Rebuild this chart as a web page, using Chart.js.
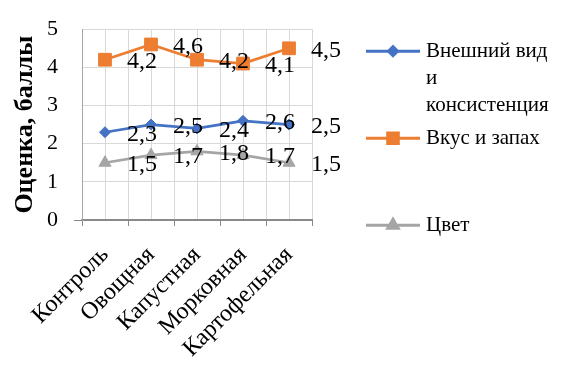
<!DOCTYPE html>
<html>
<head>
<meta charset="utf-8">
<script src="https://cdn.jsdelivr.net/npm/chart.js@4"></script>
<style>
  html, body { margin: 0; padding: 0; background: #fff; }
  #wrap { width: 568px; height: 367px; position: relative; }
</style>
</head>
<body>
<div id="wrap"><canvas id="chart"></canvas></div>
<script>
// Sensory evaluation scores per sample
const categories = ['Контроль', 'Овощная', 'Капустная', 'Морковная', 'Картофельная'];
const appearanceScores = [2.3, 2.5, 2.4, 2.6, 2.5];
const tasteScores = [4.2, 4.6, 4.2, 4.1, 4.5];
const colourScores = [1.5, 1.7, 1.8, 1.7, 1.5];
const seriesNames = ['Внешний вид и консистенция', 'Вкус и запах', 'Цвет'];
const yTicks = { min: 0, max: 5, step: 1 };
const yAxisTitle = 'Оценка, баллы';

const SERIF = '"Liberation Serif", "Times New Roman", serif';
const fmt = v => String(v).replace('.', ',');

// Extra vertical grid lines through each category centre
const centreGrid = {
  id: 'centreGrid',
  beforeDatasetsDraw(chart) {
    const { ctx, chartArea } = chart;
    const xs = chart.scales.x;
    ctx.save();
    ctx.strokeStyle = '#d9d9d9';
    ctx.lineWidth = 1;
    chart.data.labels.forEach((_, i) => {
      const x = Math.round(xs.getPixelForValue(i)) + 0.5;
      ctx.beginPath();
      ctx.moveTo(x, chartArea.top);
      ctx.lineTo(x, chartArea.bottom - 1);
      ctx.stroke();
    });
    ctx.restore();
  }
};

// Value labels to the right of each point
const valueLabels = {
  id: 'valueLabels',
  afterDatasetsDraw(chart) {
    const ctx = chart.ctx;
    ctx.save();
    ctx.font = '24px ' + SERIF;
    ctx.fillStyle = '#000';
    ctx.textAlign = 'left';
    ctx.textBaseline = 'middle';
    chart.data.datasets.forEach((ds, i) => {
      chart.getDatasetMeta(i).data.forEach((pt, j) => {
        ctx.fillText(fmt(ds.data[j]), pt.x + 22, pt.y + 2);
      });
    });
    ctx.restore();
  }
};

// Legend on the right with wrapped entry text
const sideLegend = {
  id: 'sideLegend',
  afterDraw(chart) {
    const ctx = chart.ctx;
    const lineX0 = 366, lineX1 = 420, textX = 426, maxW = 125, lineH = 27;
    const y0 = chart.chartArea.top + 22, step = 87;
    ctx.save();
    ctx.font = '21px ' + SERIF;
    ctx.textBaseline = 'middle';
    ctx.textAlign = 'left';
    chart.data.datasets.forEach((ds, i) => {
      const y = y0 + i * step;
      ctx.strokeStyle = ds.borderColor;
      ctx.lineWidth = 3;
      ctx.beginPath();
      ctx.moveTo(lineX0, y);
      ctx.lineTo(lineX1, y);
      ctx.stroke();
      ctx.fillStyle = ds.pointBackgroundColor;
      ctx.strokeStyle = ds.pointBorderColor;
      Chart.helpers.drawPoint(ctx, {
        pointStyle: ds.pointStyle,
        radius: ds.legendRadius,
        rotation: 0,
        borderWidth: 1
      }, (lineX0 + lineX1) / 2, y);
      // wrap words
      const words = ds.label.split(' ');
      const lines = [];
      let cur = '';
      words.forEach(w => {
        const t = cur ? cur + ' ' + w : w;
        if (cur && ctx.measureText(t).width > maxW) { lines.push(cur); cur = w; }
        else cur = t;
      });
      if (cur) lines.push(cur);
      ctx.fillStyle = '#000';
      lines.forEach((l, k) => ctx.fillText(l, textX, y + k * lineH));
    });
    ctx.restore();
  }
};

const series = [
  { name: seriesNames[0], data: appearanceScores, color: '#4472c4', style: 'rectRot', r: 5.5, lr: 4.5 },
  { name: seriesNames[1], data: tasteScores, color: '#ed7d31', style: 'rect', r: 9, lr: 7.5 },
  { name: seriesNames[2], data: colourScores, color: '#a5a5a5', style: 'triangle', r: 7, lr: 6 }
];

new Chart(document.getElementById('chart'), {
  type: 'line',
  data: {
    labels: categories,
    datasets: series.map(s => ({
      label: s.name,
      data: s.data,
      borderColor: s.color,
      backgroundColor: s.color,
      pointBackgroundColor: s.color,
      pointBorderColor: s.color,
      pointStyle: s.style,
      pointRadius: s.r,
      pointBorderWidth: 1,
      legendRadius: s.lr,
      borderWidth: 2.75,
      tension: 0,
      fill: false
    }))
  },
  options: {
    responsive: true,
    maintainAspectRatio: false,
    animation: false,
    events: [],
    layout: { padding: { top: 19, right: 256, left: 0, bottom: 0 } },
    plugins: { legend: { display: false }, tooltip: { enabled: false } },
    scales: {
      x: {
        offset: true,
        grid: { color: '#d9d9d9', tickColor: '#898989', tickLength: 6, offset: true },
        border: { color: '#898989', width: 2 },
        ticks: {
          font: { family: SERIF, size: 24 },
          color: '#000',
          minRotation: 45,
          maxRotation: 45,
          autoSkip: false,
          padding: 15
        },
        afterFit(s) { s.height = 147; }
      },
      y: {
        min: yTicks.min,
        max: yTicks.max,
        ticks: {
          stepSize: yTicks.step,
          font: { family: SERIF, size: 22 },
          color: '#000',
          padding: 16
        },
        grid: {
          color: '#d9d9d9',
          tickLength: 8,
          tickColor: c => (c.tick && c.tick.value === 0 ? '#898989' : 'rgba(0,0,0,0)')
        },
        border: { color: '#a6a6a6' },
        title: {
          display: true,
          text: yAxisTitle,
          color: '#000',
          font: { family: SERIF, size: 26, weight: 'bold' },
          padding: { top: 10, bottom: 0 }
        },
        afterFit(s) { s.width = 82; }
      }
    }
  },
  plugins: [centreGrid, valueLabels, sideLegend]
});
</script>
</body>
</html>
